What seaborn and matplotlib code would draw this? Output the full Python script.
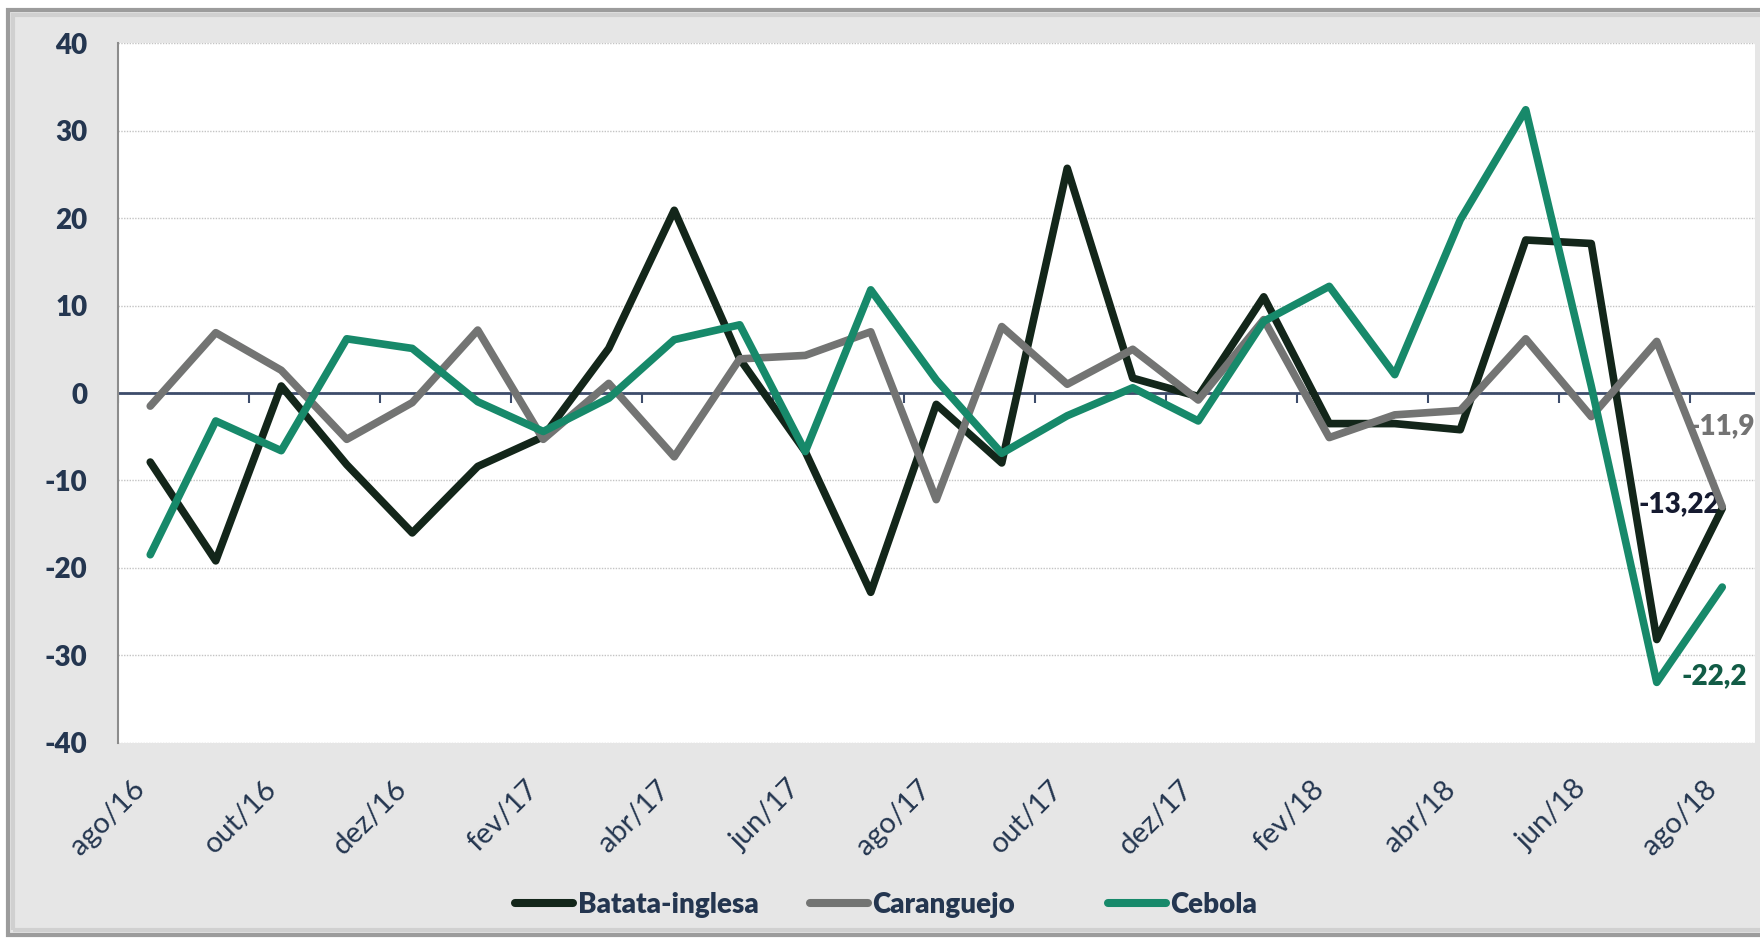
import numpy as np
import pandas as pd
import matplotlib.pyplot as plt
import seaborn as sns
from matplotlib.patches import Rectangle
from matplotlib.lines import Line2D

# monthly series, ago/16 .. ago/18
meses = ["ago/16", "set/16", "out/16", "nov/16", "dez/16", "jan/17", "fev/17",
         "mar/17", "abr/17", "mai/17", "jun/17", "jul/17", "ago/17", "set/17",
         "out/17", "nov/17", "dez/17", "jan/18", "fev/18", "mar/18", "abr/18",
         "mai/18", "jun/18", "jul/18", "ago/18"]

batata = [-7.9, -19.2, 0.8, -8.2, -16.0, -8.4, -5.0, 5.1, 20.9, 3.9, -6.7, -22.8,
          -1.3, -8.0, 25.7, 1.7, -0.4, 11.0, -3.5, -3.5, -4.2, 17.5, 17.1, -28.2, -13.2]
caranguejo = [-1.5, 6.9, 2.6, -5.3, -1.1, 7.2, -5.3, 1.1, -7.3, 3.9, 4.3, 7.0,
              -12.2, 7.6, 1.0, 5.0, -0.8, 8.4, -5.1, -2.5, -2.0, 6.2, -2.7, 5.9, -13.0]
cebola = [-18.5, -3.2, -6.6, 6.2, 5.1, -1.0, -4.4, -0.6, 6.1, 7.8, -6.7, 11.8,
          1.5, -6.9, -2.6, 0.6, -3.2, 8.2, 12.2, 2.1, 19.8, 32.4, 0.8, -33.1, -22.2]

produtos = ["Batata-inglesa", "Caranguejo", "Cebola"]
cores = ["#13261a", "#737473", "#17896a"]

# end-of-series labels
rotulos = ["-13,22", "-11,9", "-22,2"]
rotulo_cores = ["#151a30", "#737373", "#125c46"]
rotulo_pos = [(22.72, -12.7), (23.5, -3.8), (23.38, -32.4)]

df = pd.DataFrame({
    "idx": list(range(len(meses))) * 3,
    "valor": batata + caranguejo + cebola,
    "produto": [p for p in produtos for _ in meses],
})

sns.set_style("white")
plt.rcParams["font.family"] = ["Lato", "DejaVu Sans"]

texto = "#243650"

fig = plt.figure(figsize=(17.6, 9.41), dpi=100, facecolor="white")

# grey chart panel with a bevelled border
fig.patches.append(Rectangle((8 / 1760, 6 / 941), 1.0, 925 / 941, transform=fig.transFigure,
                             facecolor="#e6e6e6", edgecolor="#9c9c9c", lw=3, zorder=-10))
fig.patches.append(Rectangle((13 / 1760, 11 / 941), 1.0, 915 / 941, transform=fig.transFigure,
                             facecolor="none", edgecolor="#d0d0d0", lw=3, zorder=-9))

ax = fig.add_axes([117.5 / 1760, 1 - 742.7 / 941, (1755 - 117.5) / 1760, (742.7 - 43.3) / 941])
ax.set_facecolor("white")

sns.lineplot(data=df, x="idx", y="valor", hue="produto", hue_order=produtos,
             palette=dict(zip(produtos, cores)), lw=5.5, ax=ax, legend=False,
             solid_capstyle="round")

ax.set_xlim(-0.5, len(meses) - 0.5)
ax.set_ylim(-40, 40)
ax.set_yticks(range(-40, 41, 10))
ax.set_yticklabels([str(v) for v in range(-40, 41, 10)], fontsize=20,
                   fontweight="heavy", color=texto)
ax.set_xticks(range(0, len(meses), 2))
ax.set_xticklabels(meses[::2], rotation=45, ha="right", fontsize=21, color=texto)
ax.tick_params(axis="x", length=0, pad=24)
ax.tick_params(axis="y", length=7.6, width=1.5, color="#8c8c8c", pad=14, direction="out")
ax.set_xlabel("")
ax.set_ylabel("")

ax.set_axisbelow(True)
ax.yaxis.grid(True, color="#c4c4c4", linestyle=(0, (1, 1)), lw=1)
for s in ["top", "right", "bottom"]:
    ax.spines[s].set_visible(False)
ax.spines["left"].set_color("#8c8c8c")
ax.spines["left"].set_linewidth(1.5)

# zero line with category tick marks
ax.axhline(0, color="#3d4c6b", lw=2, zorder=1.5)
ax.vlines(np.arange(-0.5, len(meses), 2), -1.2, 0, color="#3d4c6b", lw=1.5, zorder=1.5)

for txt, c, (x, y) in zip(rotulos, rotulo_cores, rotulo_pos):
    ax.text(x, y, txt, color=c, fontsize=20, fontweight="heavy", va="center",
            ha="left", zorder=1.8, clip_on=True)

# legend entries spaced evenly, as in the original
for nome, c, x in zip(produtos, cores, [515, 810, 1108]):
    fig.legend(handles=[Line2D([], [], color=c, lw=5.8, solid_capstyle="round")],
               labels=[nome], loc="center left", bbox_to_anchor=(x / 1760, 36 / 941),
               frameon=False, prop=dict(weight="heavy", size=20), labelcolor=texto,
               handlelength=2.1, handletextpad=0.15, borderpad=0, borderaxespad=0)

fig.savefig("out.png", dpi=100, facecolor="white")
